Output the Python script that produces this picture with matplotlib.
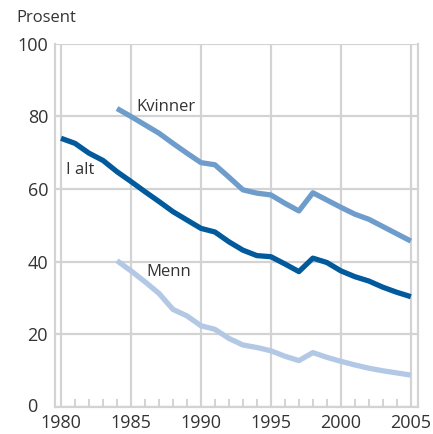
import matplotlib.pyplot as plt
from matplotlib.ticker import MultipleLocator

plt.rcParams['font.family'] = ['Open Sans', 'DejaVu Sans']

years_all = list(range(1980, 2006))
years_sex = list(range(1984, 2006))

i_alt = [74.0, 72.6, 69.9, 67.9, 64.8, 62.1, 59.3, 56.6, 53.8, 51.5, 49.2, 48.2, 45.5,
         43.2, 41.7, 41.4, 39.4, 37.3, 41.0, 39.8, 37.5, 35.9, 34.7, 33.0, 31.6, 30.4]
kvinner = [82.2, 80.0, 77.7, 75.4, 72.6, 69.9, 67.3, 66.7, 63.3, 59.8, 58.9, 58.4, 56.1,
           54.0, 59.0, 57.0, 55.0, 53.1, 51.7, 49.7, 47.7, 45.7]
menn = [40.3, 37.5, 34.5, 31.3, 26.9, 25.1, 22.4, 21.4, 18.9, 17.1, 16.4, 15.5, 14.0,
        12.8, 15.0, 13.7, 12.6, 11.6, 10.7, 10.0, 9.4, 8.8]
y_ticks = [0, 20, 40, 60, 80, 100]

grid_col = '#d3d3d3'
text_col = '#333333'

fig = plt.figure(figsize=(4.33, 4.34), dpi=100)
ax = fig.add_axes([0.127, 0.062, 0.838, 0.837])

ax.plot(years_sex, menn, color='#b3c8e5', lw=3.8, solid_capstyle='butt', zorder=3)
ax.plot(years_sex, kvinner, color='#6e9dcc', lw=3.8, solid_capstyle='butt', zorder=3)
ax.plot(years_all, i_alt, color='#005a9c', lw=3.8, solid_capstyle='butt', zorder=4)

ax.set_xlim(1979.57, 2005.5)
ax.set_ylim(0, 100)
ax.xaxis.set_major_locator(MultipleLocator(5))
ax.xaxis.set_minor_locator(MultipleLocator(1))
ax.set_yticks(y_ticks)
# the 0 label sits a bit further left in the original, drawn separately below
ax.set_yticklabels([''] + [str(v) for v in y_ticks[1:]])
ax.grid(True, which='major', color=grid_col, lw=1.6, zorder=0)

for s in ['left', 'right', 'bottom']:
    ax.spines[s].set_color(grid_col)
    ax.spines[s].set_linewidth(1.6)
ax.spines['top'].set_visible(False)

ax.tick_params(axis='both', which='major', length=0, labelsize=13,
               labelcolor=text_col)
ax.tick_params(axis='y', pad=5)
ax.tick_params(axis='x', pad=5)
ax.tick_params(axis='x', which='minor', direction='in', length=6, width=1.4,
               color=grid_col)

ax.annotate('0', xy=(0, 0), xycoords='axes fraction', xytext=(-13, 0),
            textcoords='offset points', ha='right', va='center',
            fontsize=13, color=text_col)

ax.text(1985.4, 82.6, 'Kvinner', fontsize=12, color=text_col, va='center')
ax.text(1980.35, 65.3, 'I alt', fontsize=12, color=text_col, va='center')
ax.text(1986.1, 37.2, 'Menn', fontsize=12, color=text_col, va='center')
fig.text(0.038, 0.958, 'Prosent', fontsize=12, color=text_col, va='center')

fig.savefig('out.png', dpi=100)
